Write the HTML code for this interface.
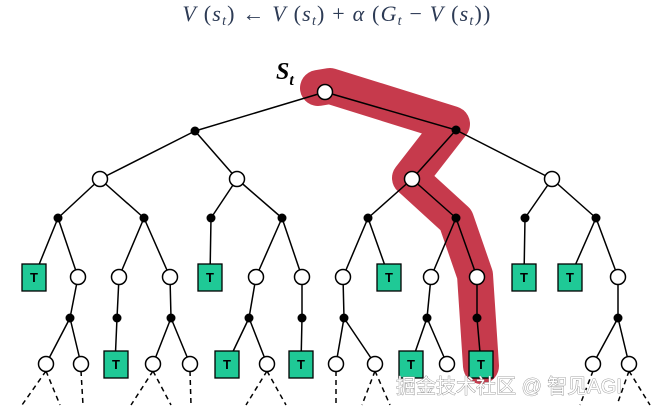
<!DOCTYPE html>
<html><head><meta charset="utf-8"><style>
html,body{margin:0;padding:0;background:#fff;}
svg{display:block;}
</style></head><body>
<svg width="670" height="416" viewBox="0 0 670 416" xmlns="http://www.w3.org/2000/svg">
<text x="337" y="21" text-anchor="middle" font-family="Liberation Serif, serif" font-size="22" letter-spacing="1.2" fill="#2d3b55"><tspan font-style="italic">V</tspan> (<tspan font-style="italic">s</tspan><tspan font-size="14" font-style="italic" dy="4">t</tspan><tspan dy="-4">) ← </tspan><tspan font-style="italic">V</tspan> (<tspan font-style="italic">s</tspan><tspan font-size="14" font-style="italic" dy="4">t</tspan><tspan dy="-4">) + </tspan><tspan font-style="italic">α</tspan> (<tspan font-style="italic">G</tspan><tspan font-size="14" font-style="italic" dy="4">t</tspan><tspan dy="-4"> − </tspan><tspan font-style="italic">V</tspan> (<tspan font-style="italic">s</tspan><tspan font-size="14" font-style="italic" dy="4">t</tspan><tspan dy="-4">))</tspan></text>

<polyline points="318,88 330,86 452,124 410,178 456,220 475,275 481,366" fill="none" stroke="#c63a4c" stroke-width="36" stroke-linejoin="round" stroke-linecap="round"/>

<text x="276" y="79" font-family="Liberation Serif, serif" font-size="24" font-weight="bold" font-style="italic" fill="#000">S<tspan font-size="16" dy="6">t</tspan></text>

<g stroke="#000" stroke-width="1.5" fill="none">
<path d="M325,92L195,131M325,92L456,130
M195,131L100,179M195,131L237,179M456,130L412,179M456,130L552,179
M100,179L58,218M100,179L144,218M237,179L211,218M237,179L282,218
M412,179L368,218M412,179L456,218M552,179L525,218M552,179L596,218
M58,218L34,277M58,218L78,277M144,218L119,277M144,218L170,277M211,218L210,277M282,218L256,277M282,218L302,277
M368,218L343,277M368,218L389,277M456,218L431,277M456,218L477,277M525,218L524,277M596,218L570,277M596,218L618,277
M78,277L70,318M119,277L117,318M170,277L171,318M256,277L249,318M302,277L302,318
M343,277L344,318M431,277L427,318M477,277L477,318M618,277L618,318
M70,318L46,364M70,318L81,364M117,318L115,364M171,318L153,364M171,318L190,364
M249,318L227,364M249,318L267,364M302,318L301,364
M344,318L336,364M344,318L375,364M427,318L411,364M427,318L447,364M477,318L481,364
M618,318L593,364M618,318L629,364"/>
</g>
<g stroke="#000" stroke-width="1.5" stroke-dasharray="5,4" fill="none">
<path d="M46,371L22,405M46,371L60,405M81,371L83,405M153,371L131,405M153,371L171,405M190,371L191,405
M267,371L246,405M267,371L286,405M336,371L336,405M375,371L362,405M375,371L390,405
M593,371L580,405M629,371L617,405M629,371L650,405"/>
</g>
<g fill="#000">
<circle cx="195" cy="131" r="4.5"/><circle cx="456" cy="130" r="4.5"/>
<circle cx="58" cy="218" r="4.5"/><circle cx="144" cy="218" r="4.5"/><circle cx="211" cy="218" r="4.5"/><circle cx="282" cy="218" r="4.5"/>
<circle cx="368" cy="218" r="4.5"/><circle cx="456" cy="218" r="4.5"/><circle cx="525" cy="218" r="4.5"/><circle cx="596" cy="218" r="4.5"/>
<circle cx="70" cy="318" r="4.5"/><circle cx="117" cy="318" r="4.5"/><circle cx="171" cy="318" r="4.5"/><circle cx="249" cy="318" r="4.5"/><circle cx="302" cy="318" r="4.5"/>
<circle cx="344" cy="318" r="4.5"/><circle cx="427" cy="318" r="4.5"/><circle cx="477" cy="318" r="4.5"/><circle cx="618" cy="318" r="4.5"/>
</g>
<g fill="#fff" stroke="#000" stroke-width="1.5">
<circle cx="325" cy="92" r="7.5"/>
<circle cx="100" cy="179" r="7.5"/><circle cx="237" cy="179" r="7.5"/><circle cx="412" cy="179" r="7.5"/><circle cx="552" cy="179" r="7.5"/>
<circle cx="78" cy="277" r="7.5"/><circle cx="119" cy="277" r="7.5"/><circle cx="170" cy="277" r="7.5"/><circle cx="256" cy="277" r="7.5"/><circle cx="302" cy="277" r="7.5"/>
<circle cx="343" cy="277" r="7.5"/><circle cx="431" cy="277" r="7.5"/><circle cx="477" cy="277" r="7.5"/><circle cx="618" cy="277" r="7.5"/>
<circle cx="46" cy="364" r="7.5"/><circle cx="81" cy="364" r="7.5"/><circle cx="153" cy="364" r="7.5"/><circle cx="190" cy="364" r="7.5"/><circle cx="267" cy="364" r="7.5"/>
<circle cx="336" cy="364" r="7.5"/><circle cx="375" cy="364" r="7.5"/><circle cx="447" cy="364" r="7.5"/><circle cx="593" cy="364" r="7.5"/><circle cx="629" cy="364" r="7.5"/>
</g>
<g font-family="Liberation Sans, sans-serif" font-size="13" font-weight="bold" text-anchor="middle">
<g fill="#1fc996" stroke="#000" stroke-width="1.3">
<rect x="22" y="264" width="24" height="27"/><rect x="198" y="264" width="24" height="27"/>
<rect x="377" y="264" width="24" height="27"/><rect x="512" y="264" width="24" height="27"/><rect x="558" y="264" width="24" height="27"/>
<rect x="104" y="351" width="24" height="27"/><rect x="215" y="351" width="24" height="27"/><rect x="289" y="351" width="24" height="27"/>
<rect x="399" y="351" width="24" height="27"/><rect x="469" y="351" width="24" height="27"/>
</g>
<g fill="#000">
<text x="34" y="282">T</text><text x="210" y="282">T</text><text x="389" y="282">T</text><text x="524" y="282">T</text><text x="570" y="282">T</text>
<text x="116" y="369">T</text><text x="227" y="369">T</text><text x="301" y="369">T</text><text x="411" y="369">T</text><text x="481" y="369">T</text>
</g>
</g>
<text x="396" y="393" font-family="Liberation Sans, 'Noto Sans CJK SC', sans-serif" font-size="20" fill="#fff" stroke="#888" stroke-width="0.8" paint-order="stroke">掘金技术社区 @ 智见AGI</text>
</svg>
</body></html>
